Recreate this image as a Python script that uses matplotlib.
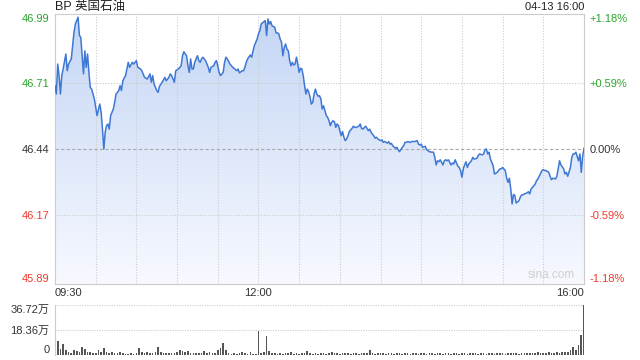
import numpy as np
import matplotlib
matplotlib.use('Agg')
import matplotlib.pyplot as plt

plt.rcParams['font.family'] = ['Liberation Sans', 'Noto Sans CJK SC', 'DejaVu Sans']

title = 'BP 英国石油'
stamp = '04-13 16:00'
prev_close = 46.44

# minutes after 09:30 and last price
minutes = [0, 1, 2, 3, 4, 5, 6, 8, 9, 10, 12, 13, 14, 15, 17, 18, 19, 20, 21, 22,
           23, 24, 25, 26, 27, 29, 30, 31, 33, 34, 35, 36, 37, 38, 39, 40, 41, 43, 44, 45,
           47, 48, 49, 50, 52, 54, 55, 57, 58, 60, 61, 63, 64, 66, 68, 70, 71, 72, 73, 75,
           76, 77, 79, 81, 82, 84, 85, 86, 87, 88, 89, 91, 93, 94, 95, 97, 98, 99, 100, 101,
           102, 103, 105, 106, 107, 108, 109, 111, 112, 113, 114, 115, 117, 118, 119, 120, 121, 122, 124, 125,
           126, 127, 129, 131, 132, 134, 135, 136, 138, 139, 140, 141, 142, 144, 145, 146, 147, 149, 150, 151,
           152, 154, 155, 156, 157, 158, 159, 160, 162, 163, 164, 165, 166, 167, 168, 169, 170, 171, 172, 173,
           174, 175, 176, 177, 178, 179, 180, 181, 182, 183, 184, 185, 186, 187, 188, 189, 190, 191, 192, 193,
           194, 195, 196, 197, 198, 199, 200, 201, 202, 203, 204, 205, 206, 207, 208, 209, 211, 212, 213, 214,
           215, 216, 217, 219, 220, 221, 222, 224, 225, 226, 227, 229, 230, 231, 232, 233, 235, 236, 237, 238,
           240, 241, 242, 243, 245, 246, 247, 248, 249, 251, 252, 253, 254, 256, 257, 258, 259, 260, 262, 263,
           264, 265, 267, 268, 269, 270, 271, 273, 274, 275, 276, 278, 279, 280, 281, 282, 283, 284, 286, 287,
           288, 289, 290, 292, 293, 294, 295, 297, 298, 299, 300, 301, 302, 303, 304, 305, 307, 308, 309, 311,
           312, 313, 315, 316, 317, 318, 319, 320, 321, 322, 323, 324, 326, 327, 328, 329, 330, 332, 333, 334,
           335, 336, 337, 338, 339, 340, 342, 343, 344, 345, 346, 348, 349, 350, 351, 353, 354, 355, 356, 357,
           359, 360, 361, 362, 364, 365, 366, 367, 369, 370, 371, 372, 373, 375, 376, 377, 378, 380, 381, 382,
           383, 384, 386, 387, 388, 389, 390]
prices = [46.698, 46.664, 46.786, 46.739, 46.664, 46.739, 46.766, 46.827, 46.759, 46.786,
          46.807, 46.861, 46.915, 46.949, 46.977, 46.902, 46.895, 46.820, 46.746, 46.840,
          46.773, 46.827, 46.752, 46.691, 46.684, 46.644, 46.610, 46.576, 46.623, 46.590,
          46.521, 46.440, 46.508, 46.535, 46.542, 46.521, 46.576, 46.603, 46.630, 46.664,
          46.678, 46.698, 46.678, 46.718, 46.739, 46.793, 46.773, 46.793, 46.786, 46.800,
          46.773, 46.766, 46.759, 46.732, 46.725, 46.746, 46.712, 46.739, 46.705, 46.678,
          46.671, 46.695, 46.712, 46.732, 46.718, 46.732, 46.746, 46.739, 46.725, 46.712,
          46.759, 46.766, 46.779, 46.820, 46.836, 46.820, 46.779, 46.752, 46.807, 46.766,
          46.766, 46.793, 46.820, 46.800, 46.793, 46.807, 46.814, 46.800, 46.786, 46.773,
          46.752, 46.773, 46.779, 46.793, 46.800, 46.779, 46.752, 46.739, 46.752, 46.793,
          46.814, 46.807, 46.786, 46.773, 46.769, 46.759, 46.766, 46.750, 46.759, 46.759,
          46.773, 46.793, 46.807, 46.823, 46.814, 46.840, 46.861, 46.888, 46.909, 46.922,
          46.949, 46.959, 46.963, 46.902, 46.970, 46.949, 46.959, 46.942, 46.936, 46.913,
          46.913, 46.909, 46.888, 46.875, 46.820, 46.854, 46.868, 46.847, 46.840, 46.800,
          46.779, 46.793, 46.782, 46.786, 46.814, 46.786, 46.752, 46.769, 46.766, 46.739,
          46.698, 46.664, 46.684, 46.673, 46.651, 46.623, 46.630, 46.664, 46.684, 46.664,
          46.655, 46.657, 46.644, 46.603, 46.616, 46.596, 46.576, 46.569, 46.555, 46.535,
          46.549, 46.555, 46.551, 46.528, 46.542, 46.535, 46.494, 46.511, 46.488, 46.474,
          46.481, 46.494, 46.511, 46.524, 46.533, 46.528, 46.528, 46.533, 46.542, 46.524,
          46.521, 46.533, 46.524, 46.515, 46.521, 46.508, 46.494, 46.484, 46.488, 46.481,
          46.474, 46.477, 46.467, 46.471, 46.464, 46.470, 46.460, 46.463, 46.453, 46.443,
          46.447, 46.437, 46.429, 46.447, 46.453, 46.467, 46.467, 46.470, 46.467, 46.470,
          46.471, 46.470, 46.474, 46.460, 46.456, 46.460, 46.447, 46.451, 46.437, 46.433,
          46.429, 46.427, 46.427, 46.406, 46.375, 46.392, 46.388, 46.396, 46.375, 46.392,
          46.396, 46.392, 46.396, 46.375, 46.383, 46.379, 46.396, 46.370, 46.365, 46.352,
          46.325, 46.359, 46.375, 46.388, 46.365, 46.379, 46.392, 46.406, 46.399, 46.402,
          46.413, 46.420, 46.416, 46.420, 46.437, 46.440, 46.420, 46.427, 46.399, 46.386,
          46.372, 46.338, 46.345, 46.352, 46.359, 46.359, 46.365, 46.352, 46.321, 46.304,
          46.321, 46.277, 46.216, 46.255, 46.250, 46.220, 46.229, 46.243, 46.253, 46.253,
          46.257, 46.261, 46.266, 46.257, 46.277, 46.290, 46.297, 46.311, 46.318, 46.329,
          46.352, 46.356, 46.352, 46.352, 46.345, 46.329, 46.315, 46.321, 46.318, 46.329,
          46.361, 46.392, 46.375, 46.359, 46.338, 46.345, 46.329, 46.365, 46.406, 46.420,
          46.420, 46.427, 46.392, 46.420, 46.345, 46.410, 46.443]

# volume per 2 minutes, in 万
volume = [25.7, 10.3, 4.5, 8.1, 3.7, 2.5, 1.5, 3.7, 3.0, 2.5,
          5.9, 4.4, 2.5, 2.0, 1.5, 1.8, 3.7, 2.2, 5.4, 2.2,
          1.5, 2.2, 1.5, 1.5, 2.2, 1.5, 1.1, 1.1, 1.5, 1.1,
          1.5, 5.4, 2.2, 1.5, 2.2, 1.3, 1.3, 2.2, 5.9, 2.2,
          1.5, 1.3, 1.3, 1.5, 1.5, 2.2, 3.7, 3.0, 2.2, 3.0,
          1.5, 1.8, 1.5, 1.5, 1.8, 3.0, 1.5, 2.2, 1.5, 1.5,
          3.7, 5.0, 8.8, 3.7, 1.5, 1.1, 1.5, 1.1, 1.5, 2.2,
          1.5, 1.1, 2.2, 0.5, 1.1, 17.8, 1.5, 2.5, 14.2, 3.3,
          1.5, 1.5, 1.1, 1.3, 1.1, 1.5, 1.3, 2.2, 1.1, 1.5,
          1.1, 1.3, 1.5, 3.0, 1.5, 1.1, 1.3, 1.1, 1.5, 1.3,
          1.1, 1.5, 2.2, 1.3, 1.5, 1.1, 1.8, 1.3, 1.5, 1.1,
          1.3, 1.5, 1.1, 1.8, 1.3, 1.5, 3.7, 1.5, 1.1, 1.3,
          1.5, 1.8, 1.1, 1.3, 1.5, 1.1, 1.3, 1.8, 1.1, 1.5,
          1.3, 1.1, 1.5, 1.3, 1.1, 1.8, 1.5, 1.1, 1.3, 1.5,
          1.1, 1.3, 1.5, 1.1, 1.3, 1.8, 1.1, 1.5, 1.3, 1.1,
          1.5, 1.3, 1.1, 1.5, 1.3, 1.8, 1.1, 1.3, 1.5, 1.1,
          1.3, 1.5, 1.1, 1.8, 1.3, 1.5, 1.1, 1.3, 1.5, 1.8,
          1.3, 1.1, 1.5, 1.8, 1.3, 1.5, 1.8, 1.3, 2.2, 1.5,
          1.8, 1.5, 2.2, 1.8, 1.5, 2.5, 1.8, 2.2, 2.2, 2.5,
          3.7, 6.1, 3.7, 7.3, 14.7, 36.72]
vol_minutes = np.arange(len(volume)) * 2

price_ticks = [46.99, 46.71, 46.44, 46.17, 45.89]
pct_labels = ['+1.18%', '+0.59%', '0.00%', '-0.59%', '-1.18%']
vol_ticks = [0, 18.36, 36.72]
vol_labels = ['0', '18.36万', '36.72万']
time_ticks = [0, 150, 390]
time_labels = ['09:30', '12:00', '16:00']

green = '#2ba52b'
red = '#ef3b2f'
grid_c = '#cccccc'
line_c = '#3f78d4'

fig = plt.figure(figsize=(6.4, 3.6), dpi=100)
ax = fig.add_axes([55/640, 1-284/360, 529/640, 270/360])
axv = fig.add_axes([55/640, 1-355/360, 529/640, 50/360])

ymin, ymax = price_ticks[-1], price_ticks[0]
ax.set_xlim(0, 390)
ax.set_ylim(ymin, ymax)

# gradient fill under the line
grad = np.linspace(0, 1, 256).reshape(-1, 1)
top = np.array([196, 214, 245]) / 255.0
bot = np.array([247, 249, 255]) / 255.0
img = top + (bot - top) * grad[:, :, None] * np.ones((1, 1, 3))
poly = ax.fill_between(minutes, prices, ymin, color='none', lw=0)
im = ax.imshow(img.reshape(256, 1, 3), extent=[0, 390, ymin, ymax],
               aspect='auto', origin='upper', zorder=1)
im.set_clip_path(poly.get_paths()[0], transform=ax.transData)

ax.plot(minutes, prices, color=line_c, lw=1.1, zorder=3)

for m in range(30, 390, 30):
    ax.axvline(m, color=grid_c, lw=0.8, ls=(0, (1, 1.5)), zorder=2)
for p in [price_ticks[1], price_ticks[3]]:
    ax.axhline(p, color=grid_c, lw=0.8, ls=(0, (1, 1.5)), zorder=2)
ax.axhline(prev_close, color='#aaaaaa', lw=0.8, ls=(0, (3, 2)), zorder=2)

for s in ax.spines.values():
    s.set_color(grid_c)

ax.set_yticks(price_ticks)
ax.set_yticklabels(['%.2f' % p for p in price_ticks])
ax.tick_params(axis='y', length=0, pad=4, labelsize=8)
cols = [green, green, '#333333', red, red]
for lab, c in zip(ax.get_yticklabels(), cols):
    lab.set_color(c)
ax.get_yticklabels()[0].set_va('top')
ax.get_yticklabels()[-1].set_va('bottom')

ax.set_xticks(time_ticks)
ax.set_xticklabels(time_labels)
ax.tick_params(axis='x', length=0, pad=3, labelsize=8, labelcolor='#333333')
ax.get_xticklabels()[0].set_ha('left')
ax.get_xticklabels()[-1].set_ha('right')

axr = ax.twinx()
axr.set_ylim(ymin, ymax)
axr.set_yticks(price_ticks)
axr.set_yticklabels(pct_labels)
axr.tick_params(axis='y', length=0, pad=4, labelsize=8)
for lab, c in zip(axr.get_yticklabels(), cols):
    lab.set_color(c)
axr.get_yticklabels()[0].set_va('top')
axr.get_yticklabels()[-1].set_va('bottom')
for s in axr.spines.values():
    s.set_visible(False)

ax.text(0.983, 0.012, 'sina.com', transform=ax.transAxes, ha='right', va='bottom',
        color='#cfcfcf', fontsize=8.5, zorder=4)

fig.text(55/640, 1-7/360, title, ha='left', va='center', fontsize=9, color='#222222')
fig.text(584/640, 1-7/360, stamp, ha='right', va='center', fontsize=8, color='#222222')

# volume panel
axv.bar(vol_minutes, volume, width=1.2, color='#555555', align='center')
axv.set_xlim(0, 390)
axv.set_ylim(0, vol_ticks[-1])
for v in vol_ticks[1:]:
    axv.axhline(v, color=grid_c, lw=0.8, ls=(0, (1, 1.2)), zorder=0)
for k in ['top', 'right', 'bottom']:
    axv.spines[k].set_visible(False)
axv.spines['left'].set_color(grid_c)
axv.set_xticks([])
axv.set_yticks(vol_ticks)
axv.set_yticklabels(vol_labels)
axv.tick_params(axis='y', length=0, pad=4, labelsize=8, labelcolor='#333333')
axv.get_yticklabels()[0].set_va('bottom')
axv.get_yticklabels()[-1].set_va('top')

fig.savefig('out.png', dpi=100)
